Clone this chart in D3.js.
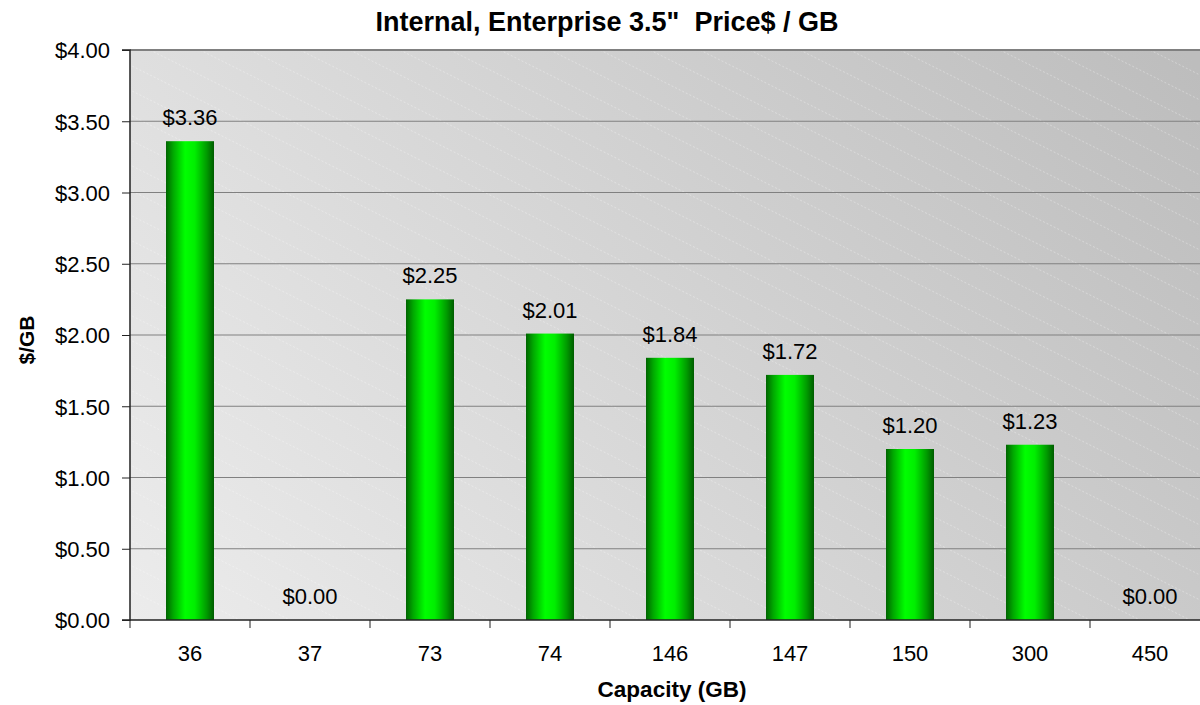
<!DOCTYPE html>
<html><head><meta charset="utf-8">
<script src="https://cdn.jsdelivr.net/npm/d3@7"></script>
<style>body{margin:0;background:#fff;}svg{display:block;font-family:Arial,"Liberation Sans",sans-serif;}</style>
</head><body>
<svg id="c" width="1200" height="705"></svg>
<script>
const categories = ["36","37","73","74","146","147","150","300","450"];
const values = [3.36,0,2.25,2.01,1.84,1.72,1.20,1.23,0];
const yTicks = [0,0.5,1,1.5,2,2.5,3,3.5,4];
const title = 'Internal, Enterprise 3.5"\u00a0 Price$ / GB';
const xTitle = "Capacity (GB)";
const yTitle = "$/GB";

const FF = "Arial,'Liberation Sans',sans-serif";
const svg = d3.select("#c");
const L=130, R=1210, T=50, B=620;
const x = d3.scaleBand().domain(categories).range([L,R]).paddingInner(0.6).paddingOuter(0.3);
const xb = d3.scaleBand().domain(categories).range([L,R]);
const y = d3.scaleLinear().domain([0,4]).range([B,T]);

const defs = svg.append("defs");
const bg = defs.append("linearGradient").attr("id","bg").attr("gradientUnits","userSpaceOnUse")
  .attr("x1",L).attr("y1",B).attr("x2",1100).attr("y2",T-120);
bg.append("stop").attr("offset","0").attr("stop-color","#ececec");
bg.append("stop").attr("offset","1").attr("stop-color","#bdbdbd");
const pat = defs.append("pattern").attr("id","hatch").attr("patternUnits","userSpaceOnUse")
  .attr("width",50).attr("height",25);
pat.append("path").attr("d","M-50,-25 L100,50 M0,-25 L150,50 M-100,-25 L50,50")
  .attr("stroke","#fff").attr("stroke-opacity",0.4).attr("stroke-width",0.8).attr("stroke-dasharray","2,2");
const bar = defs.append("linearGradient").attr("id","bar").attr("x1","0").attr("x2","1").attr("y1","0").attr("y2","0");
[[0,"#006400"],[0.15,"#00a800"],[0.4,"#00ff00"],[0.6,"#00ee00"],[0.85,"#009a00"],[1,"#005c00"]]
  .forEach(([o,c])=>bar.append("stop").attr("offset",o).attr("stop-color",c));

svg.append("rect").attr("x",L).attr("y",T).attr("width",R-L).attr("height",B-T).attr("fill","url(#bg)");
svg.append("rect").attr("x",L).attr("y",T).attr("width",R-L).attr("height",B-T).attr("fill","url(#hatch)");

// gridlines
svg.append("g").selectAll("line").data(yTicks.filter(d=>d>0)).join("line")
  .attr("x1",L).attr("x2",R).attr("y1",d=>y(d)).attr("y2",d=>y(d))
  .attr("stroke","#808080").attr("stroke-width",d=>d===4?2:1.2);

// bars
svg.append("g").selectAll("rect").data(categories).join("rect")
  .attr("x",d=>x(d)).attr("width",x.bandwidth())
  .attr("y",(d,i)=>y(values[i])).attr("height",(d,i)=>B-y(values[i]))
  .attr("fill","url(#bar)");

// labels
svg.append("g").selectAll("text").data(categories).join("text")
  .attr("x",d=>x(d)+x.bandwidth()/2).attr("y",(d,i)=>y(values[i])-16)
  .attr("text-anchor","middle").attr("font-size",22).attr("font-family",FF).attr("fill","#000")
  .text((d,i)=>"$"+values[i].toFixed(2));

// axes
const yAxis = d3.axisLeft(y).tickValues(yTicks).tickSize(8).tickFormat(d=>"$"+d.toFixed(2));
const gy = svg.append("g").attr("transform",`translate(${L},0)`).call(yAxis);
gy.select(".domain").attr("stroke","#222").attr("stroke-width",1.5).attr("d",`M-8,${T}H0V${B}H-8`);
gy.selectAll(".tick line").attr("stroke","#222");
gy.selectAll(".tick text").attr("font-size",22).attr("font-family",FF).attr("fill","#000").attr("x",-20).attr("dy","0.36em");

const xAxis = d3.axisBottom(xb).tickSize(0).tickPadding(0).tickFormat(d=>d);
const gx = svg.append("g").attr("transform",`translate(0,${B})`).call(xAxis);
gx.select(".domain").attr("stroke","#222").attr("stroke-width",1.5).attr("d",`M${L},0H${R}`);
gx.selectAll(".tick text").attr("font-size",22).attr("font-family",FF).attr("fill","#000").attr("y",41).attr("dy",0);
svg.append("g").selectAll("line").data(categories).join("line")
  .attr("x1",d=>xb(d)).attr("x2",d=>xb(d)).attr("y1",B).attr("y2",B+8).attr("stroke","#222").attr("stroke-width",1);

svg.append("text").attr("x",607).attr("y",31).attr("text-anchor","middle").attr("font-size",27).attr("font-weight","bold").attr("font-family",FF).text(title);
svg.append("text").attr("x",672).attr("y",697).attr("text-anchor","middle").attr("font-size",22.5).attr("font-weight","bold").attr("font-family",FF).text(xTitle);
svg.append("text").attr("transform","translate(34,340) rotate(-90)").attr("text-anchor","middle").attr("font-size",21).attr("font-weight","bold").attr("font-family",FF).text(yTitle);
</script>
</body></html>
